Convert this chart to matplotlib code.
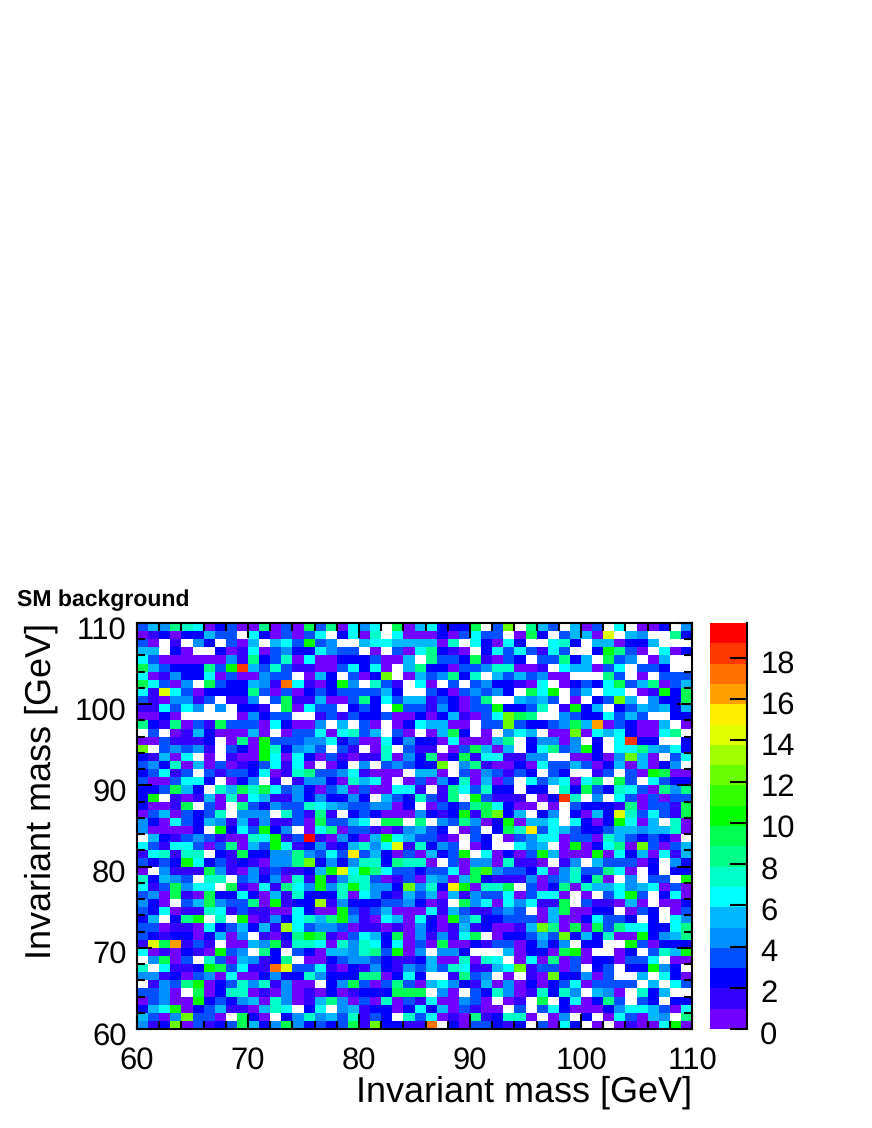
#! /usr/bin/python
# SM background, 2D invariant mass histogram, ROOT COLZ look
import numpy as np
import matplotlib
matplotlib.use('Agg')
import matplotlib.pyplot as plt
from matplotlib.colors import ListedColormap, BoundaryNorm
from matplotlib.transforms import ScaledTranslation

plt.rcParams['font.family'] = ['Liberation Sans', 'DejaVu Sans']
plt.rcParams['text.hinting'] = 'no_hinting'
plt.rcParams['text.hinting_factor'] = 1

# bin contents, top row first, one character per bin:
# '.' = empty bin, otherwise the colour level 0-9, a-j
rows = [
    "3548760230080309380646.90" "562229.3c.853.503.6.002.4",
    "012022533.6203036.2607.60" "00203633.092.3550e.54..82",
    "30.1.42.305.563a34..56655" "5507.62062..672.550225...",
    "55.20..2016034226433.0.30" "68210.26363163..2a830.602",
    "6300000041823706002223005" ".833291032.33825.934.05..",
    "95322283ai5373110036260.5" "822033477001.655036.332..",
    "60142260300433.052.302c.0" "534827.5353400...83.0.333",
    "96304.9322541h6102a4.731." "60.3.3422106.023269358035",
    "61e630222283030232333352." ".32034342.96a.35.66.01a29",
    "3104413.114.3911500382635" "5132038..5453.0.23c5.4229",
    "116364.4.221.90633.232.a3" "3142033a2237.1a25.2354525",
    "0020.....04233..131322300" "20251036c98..43226353..22",
    "82180319333062004.5.30.02" "65500.33c3223495g032005.0",
    ".3.015200050.033606735.30" ".0592.0.465.00c065620068.",
    "0031112.080a3334462300624" "220600058.24404.2.6i22..2",
    "c.34341.320a72453.31.07.3" "11.039505.26834a2.6685462",
    "21506.0.100a6062031011704" "280291661144..00204c50.36",
    "3427050301236160.02.4.343" "22c.48100206335302505024.",
    "23613.313326017833461000." "550.3043132.32..13.30a900",
    "3003662.024.1.144207560.0" "304270503.6356068.93.6322",
    "223952.759796342035030066" "1.1863722.22.729327630848",
    "2a.101507065114242242.532" "7318.a3111.02i7.4.6303033",
    "20019.30.8324337654334402" ".0323896200.0.32221803319",
    "03503237.444.73181.232000" "4212a19c25.24.2052e736319",
    "420632541514113093356.99." "8.438402a0556.6202a605.70",
    "400002.a263a24.0680331014" "532.03.297f36532235545570",
    ".52134310076a13j104205a65" "3310.32.0346603307532320.",
    "631663038053a6124125746e1" "7243.02..645.0a02680c3035",
    "167177.219224484363f35203" "0523a.60203a5000a06250615",
    "3232a6231210448c242477287" "70.304407110.14.533302.42",
    "0.411194104131125ae6a8633" "233609b4332604733860.2.22",
    "72543.77.3424071a14773013" "054059211140347280.4.33.a",
    "6139466.91061864a47a7442c" "472fa0779.302807556456030",
    "3409109226205172227064215" "35051433603660.0.36a3.260",
    "420.35943380a122d14222334" "201.9460646119.311050.002",
    "326011761311006200a313500" "0615311343.0590022.032.03",
    "25.28a.7.a01426758a410650" "620a4722333050026332.2.64",
    "3301106235251d63443011010" "42015120015c8090938662268",
    "3212202504.1028a910365290" "414169.022353c252700a2458",
    "1e9g131.00549177607476260" "30900213302424.22..a30222",
    "6010210a34.82.320554783a0" "4.442...502209a0..02.375a",
    ".4903.73054128.0023443211" "25007076.0608030220336.00",
    "7.6112a93611he33610214214" "353761156c13303.23.22a42.",
    "4412034060024227422288026" "2..1834.0.10c22403..5.620",
    ".1438a0237471400.24930383" "05642150402023603333.5.63",
    "3340.90277010401020122299" "9.40.3274017274.540.725..",
    "03400a2324507401584030703" "1600430.01.9.260283.32.22",
    "256a0235110576.26.4512202" "62503100.3.36200024665306",
    "5304c330.920.2474537132.7" "36010812770.04.2.063054.8",
    "412c0312395249423239" "1c221" "1h.2033212.3062.0.01006a0",
]

level_colors = ['#7000ff', '#3300ff', '#0000ff', '#0050ff', '#0090ff',
                '#00b8ff', '#00ffff', '#00ffc8', '#00ff88', '#00ff50',
                '#00ff00', '#33ff00', '#6aff00', '#a0ff00', '#e0ff00',
                '#ffee00', '#ffa000', '#ff7000', '#ff3800', '#ff0000']
level_codes = '0123456789abcdefghij'
z_max = 19.7

x_ticks = [60, 70, 80, 90, 100, 110]
y_ticks = [60, 70, 80, 90, 100, 110]
z_ticks = [0, 2, 4, 6, 8, 10, 12, 14, 16, 18]
axis_title = 'Invariant mass [GeV]'
plot_title = 'SM background'

W, H = 872, 1128


def read_rows(lines):
    out = np.full((50, 50), np.nan)
    for i, line in enumerate(lines):
        for j, c in enumerate(line[:50]):
            if c != '.':
                out[49 - i, j] = level_codes.index(c) + 0.5
    return np.ma.masked_invalid(out)


def box(left, top, right, bottom):
    return [left / W, 1 - bottom / H, (right - left) / W, (bottom - top) / H]


def nudge(labels, fig, dy_px):
    # ROOT puts the numbers a little lower than the tick
    off = ScaledTranslation(0, -dy_px / 100, fig.dpi_scale_trans)
    for t in labels:
        t.set_transform(t.get_transform() + off)


counts = read_rows(rows)
bounds = np.linspace(0, z_max, len(level_colors) + 1)
cmap = ListedColormap(level_colors)
norm = BoundaryNorm(bounds, cmap.N)
edges = np.linspace(60, 110, 51)

fig = plt.figure(figsize=(W / 100, H / 100), dpi=100)
ax = fig.add_axes(box(137, 623, 692, 1029))
ax.pcolormesh(edges, edges, counts, cmap=cmap, norm=norm)

ax.set_xlim(60, 110)
ax.set_ylim(60, 110)
ax.set_xticks(x_ticks)
ax.set_yticks(y_ticks)
ax.set_xticks(np.arange(60, 111, 2), minor=True)
ax.set_yticks(np.arange(60, 111, 2), minor=True)
ax.tick_params(which='major', direction='in', top=True, right=True,
               length=11, width=1.5, labelsize=22)
ax.tick_params(which='minor', direction='in', top=True, right=True,
               length=5.5, width=1.5)
ax.tick_params(axis='x', which='major', pad=12.5)
ax.tick_params(axis='y', which='major', pad=7.5)
for spine in ax.spines.values():
    spine.set_linewidth(1.5)
nudge(ax.get_yticklabels(), fig, 4)

fig.text(692 / W, 1 - 1092 / H, axis_title, ha='right', va='center', fontsize=25.8)
fig.text(41 / W, 1 - 623 / H, axis_title, ha='center', va='top', rotation=90, fontsize=25.8)
fig.text(17 / W, 1 - 600 / H, plot_title, ha='left', va='center', fontsize=16.7, fontweight='bold')

cax = fig.add_axes(box(710, 623, 747, 1029))
cax.pcolormesh([0, 1], bounds, np.array(bounds[:-1] + 0.001).reshape(-1, 1), cmap=cmap, norm=norm)
cax.set_xlim(0, 1)
cax.set_ylim(0, z_max)
cax.set_xticks([])
cax.yaxis.tick_right()
cax.set_yticks(z_ticks)
cax.tick_params(axis='y', direction='in', length=12, width=1.5, labelsize=22, pad=9.5)
for name in ['left', 'top', 'bottom']:
    cax.spines[name].set_visible(False)
cax.spines['right'].set_linewidth(1.5)
nudge(cax.get_yticklabels(), fig, 3)

plt.savefig('out.png', dpi=100)
